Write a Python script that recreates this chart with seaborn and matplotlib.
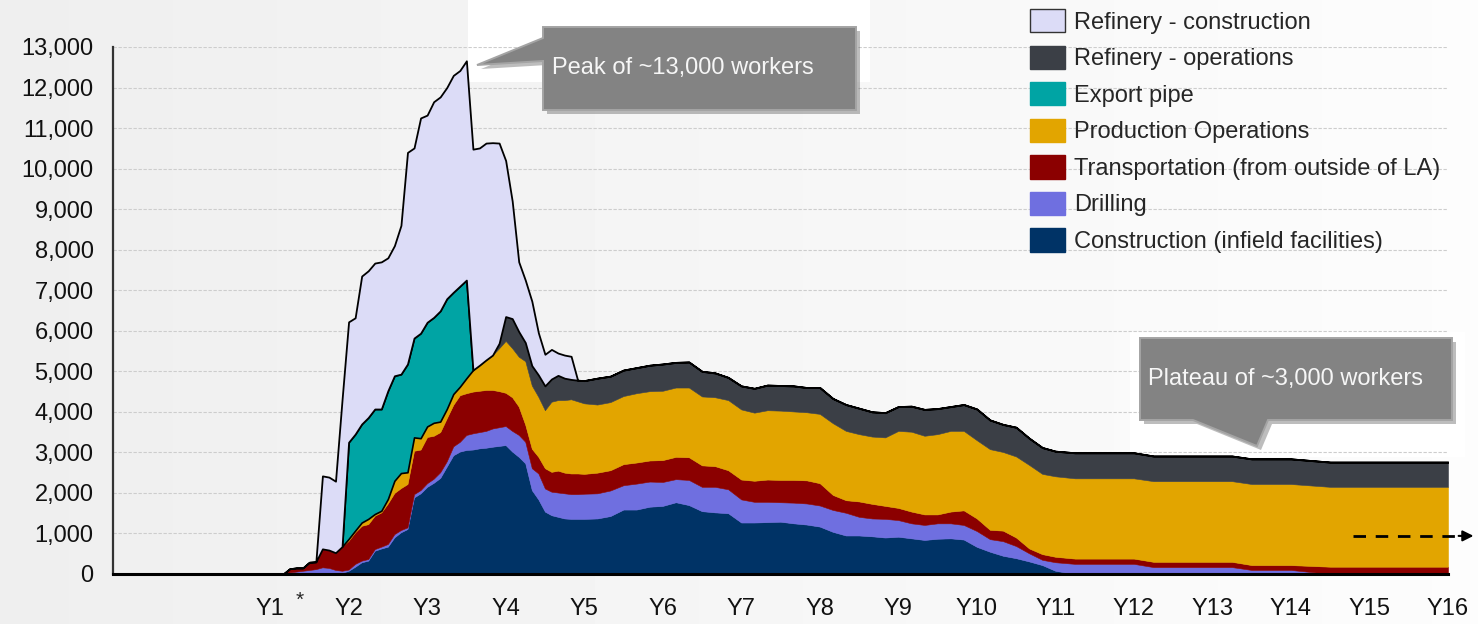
import numpy as np
import pandas as pd
import matplotlib
matplotlib.use("Agg")
import matplotlib.pyplot as plt
import matplotlib.transforms as mtransforms
from matplotlib.patches import Patch, Polygon, Rectangle
from matplotlib.ticker import FuncFormatter, MultipleLocator
import seaborn as sns

# time axis in months (Y1 = month 12)
months = [10, 14,
          15, 16, 17, 18, 19, 20, 21, 22, 23, 24, 25, 26, 27, 28, 29, 30, 31, 32, 33, 34, 35, 36, 37,
          38, 39, 40, 41, 42, 43, 44, 45, 46, 47, 48, 49, 50, 51, 52, 53, 54, 55, 56, 57, 58, 59, 60,
          62, 64, 66, 68, 70, 72, 74, 76, 78, 80, 82, 84, 86, 88, 90, 92, 94, 96, 98, 100, 102, 104,
          106, 108, 110, 112, 114, 116, 118, 120, 122, 124, 126, 128, 130, 132,
          135, 138, 141, 144, 147, 150, 153, 156, 159, 162, 165, 168, 171, 174, 177, 180, 183, 186,
          189, 192]

construction = [0, 0,
                0, 0, 0, 0, 0, 0, 0, 0, 30, 80, 180, 290, 330, 575, 630, 675, 905, 1030, 1110, 1890,
                1990, 2150, 2250, 2370, 2650, 2930, 3020, 3060, 3070, 3100, 3115, 3140, 3160, 3180,
                3020, 2890, 2730, 2070, 1840, 1540, 1450, 1410, 1370, 1360, 1360, 1360,
                1370, 1430, 1590, 1590, 1660, 1680, 1770, 1700, 1550, 1520, 1500, 1270, 1270, 1280,
                1290, 1250, 1220, 1170, 1040, 950, 950, 930, 900, 920, 880, 840, 870, 880, 850, 670,
                550, 450, 390, 310, 220, 80,
                0, 0, 0, 0, 0, 0, 0, 0, 0, 0, 0, 0, 0, 0, 0, 0, 0, 0, 0, 0]

drilling = [0, 0,
            40, 60, 80, 100, 120, 165, 150, 100, 50, 30, 70, 40, 40, 40, 45, 65, 80, 55, 40, 80, 80,
            90, 100, 140, 130, 220, 240, 370, 400, 400, 415, 450, 460, 470, 510, 540, 530, 540, 640,
            570, 580, 600, 620, 610, 610, 620,
            620, 630, 600, 640, 620, 590, 570, 620, 600, 630, 590, 570, 510, 500, 480, 510, 520, 520,
            540, 560, 460, 440, 460, 410, 370, 370, 380, 370, 360, 390, 310, 360, 300, 200, 130, 210,
            250, 250, 250, 250, 170, 170, 170, 170, 170, 100, 100, 100, 50, 0, 0, 0, 0, 0, 0, 0]

transportation = [0, 0,
                  90, 90, 70, 190, 180, 455, 440, 425, 595, 710, 780, 860, 860, 825, 845, 1000, 1015,
                  1035, 1070, 1070, 1000, 1140, 1060, 990, 1060, 1025, 1150, 1030, 1030, 1020, 1010,
                  950, 890, 820, 830, 700, 420, 480, 410, 500, 490, 540, 510, 510, 510, 490,
                  510, 500, 520, 520, 520, 540, 550, 560, 530, 510, 470, 490, 520, 550, 550, 560, 570,
                  550, 370, 310, 380, 360, 320, 300, 290, 260, 220, 290, 360, 310, 230, 260, 210, 120,
                  140, 135,
                  130, 130, 130, 130, 130, 130, 130, 130, 130, 120, 120, 120, 150, 180, 180, 180, 180,
                  180, 180, 180]

production = [0, 0,
              0, 0, 0, 0, 0, 0, 0, 0, 0, 45, 40, 80, 130, 40, 40, 110, 300, 370, 290, 330, 280, 260,
              320, 260, 230, 265, 210, 370, 530, 630, 740, 860, 1060, 1280, 1210, 1230, 1570, 1560,
              1480, 1430, 1730, 1740, 1790, 1830, 1780, 1740,
              1680, 1680, 1680, 1710, 1710, 1710, 1710, 1720, 1700, 1700, 1730, 1730, 1680, 1710,
              1710, 1690, 1680, 1710, 1770, 1710, 1660, 1660, 1690, 1900, 1970, 1940, 1980, 1990,
              1960, 1930, 1990, 1940, 2000, 2060, 1980, 1985,
              1980, 1980, 1980, 1980, 1990, 1990, 1990, 1990, 1990, 2000, 2000, 2000, 1985, 1970,
              1970, 1970, 1970, 1970, 1970, 1970]

export_pipe = [0, 0,
               0, 0, 0, 0, 0, 0, 0, 0, 0, 2385, 2380, 2430, 2500, 2590, 2510, 2670, 2590, 2440, 2670,
               2450, 2590, 2570, 2600, 2730, 2720, 2510, 2480, 2420, 0, 0, 0, 0, 0, 0, 0, 0, 0, 0, 0,
               0, 0, 0, 0, 0, 0, 0] + [0] * 56

refinery_ops = [0, 0,
                0, 0, 0, 0, 0, 0, 0, 0, 0, 0, 0, 0, 0, 0, 0, 0, 0, 0, 0, 0, 0, 0, 0, 0, 0, 0, 0, 0,
                0, 0, 0, 0, 120, 600, 730, 620, 460, 490, 540, 600, 560, 610, 540, 490, 520, 560,
                650, 640, 640, 630, 640, 660, 620, 630, 620, 600, 560, 580, 600, 620, 620, 630, 610,
                650, 610, 650, 640, 610, 610, 600, 630, 650, 630, 600, 650, 770, 720, 680, 720, 660,
                650, 620,
                630, 630, 630, 630, 620, 620, 620, 620, 620, 620, 620, 620, 615, 610, 610, 610, 610,
                610, 610, 610]

refinery_construction = [0, 0,
                         0, 0, 0, 0, 0, 1800, 1800, 1765, 3625, 2970, 2870, 3650, 3620, 3600, 3630,
                         3280, 3210, 3670, 5220, 4690, 5310, 5110, 5320, 5280, 5210, 5350, 5320,
                         5410, 5450, 5360, 5350, 5240, 4940, 3850, 2900, 1720, 1540, 1590, 1040, 780,
                         730, 550, 570, 570, 0, 0] + [0] * 56

year_labels = ["Y%d" % k for k in range(1, 17)]

# stack order bottom -> top
series = {
    "Construction (infield facilities)": (construction, "#003366"),
    "Drilling": (drilling, "#6f6fe0"),
    "Transportation (from outside of LA)": (transportation, "#8b0000"),
    "Production Operations": (production, "#e2a500"),
    "Export pipe": (export_pipe, "#00a4a4"),
    "Refinery - operations": (refinery_ops, "#3b3f46"),
    "Refinery - construction": (refinery_construction, "#dcdcf7"),
}

df = pd.DataFrame({k: v[0] for k, v in series.items()}, index=np.array(months) / 12.0)

W, H = 1478, 624


def px(x, y):
    return (x / W, 1 - y / H)


sns.set_theme(style="whitegrid")
plt.rcParams["font.family"] = ["Liberation Sans", "DejaVu Sans"]

fig = plt.figure(figsize=(W / 100, H / 100), dpi=100, facecolor="#f2f3f3")

# soft background gradient
bg = fig.add_axes([0, 0, 1, 1], zorder=-10)
grad = np.linspace(0.935, 0.99, 256).reshape(1, -1)
bg.imshow(grad, aspect="auto", cmap="gray", vmin=0, vmax=1, extent=[0, 1, 0, 1])
bg.axis("off")

# white patches behind the callouts
for (x0, y0, x1, y1) in [(468, 0, 870, 82), (1130, 332, 1465, 457)]:
    fig.patches.append(Rectangle(px(x0, y1), (x1 - x0) / W, (y1 - y0) / H,
                                 transform=fig.transFigure, facecolor="white",
                                 edgecolor="none", zorder=-5))

ax = fig.add_axes([113 / W, 1 - 574 / H, (1448 - 113) / W, (574 - 47) / H])
ax.set_facecolor("none")

x = df.index.values
lower = np.zeros(len(df))
for name, (vals, color) in series.items():
    v = df[name].values
    upper = lower + v
    if name == "Export pipe":
        mask = np.convolve(v > 0, [1, 1, 1], mode="same") > 0
        ax.fill_between(x, lower, upper, where=mask, facecolor=color,
                        edgecolor="black", linewidth=1.2, zorder=3)
    elif name == "Refinery - construction":
        ax.fill_between(x, lower, upper, facecolor=color,
                        edgecolor="black", linewidth=1.3, zorder=4)
    else:
        ax.fill_between(x, lower, upper, facecolor=color,
                        edgecolor=color, linewidth=0.4, zorder=2)
    lower = upper

ax.set_xlim(-1, 16)
ax.set_ylim(0, 13000)
ax.yaxis.set_major_locator(MultipleLocator(1000))
ax.yaxis.set_major_formatter(FuncFormatter(lambda v, p: f"{int(v):,}"))
ax.set_xticks(range(1, 17))
ax.set_xticklabels(year_labels)
ax.tick_params(axis="y", length=0, pad=14, labelsize=17, labelcolor="#111111")
ax.tick_params(axis="x", length=0, pad=17, labelsize=17, labelcolor="#111111")
ax.xaxis.grid(False)
ax.yaxis.grid(True, color="#cdcdcd", linewidth=0.8, linestyle=(0, (3, 1.5)))
for s in ["top", "right"]:
    ax.spines[s].set_visible(False)
ax.spines["left"].set_color("#333333")
ax.spines["left"].set_linewidth(1.6)
ax.spines["bottom"].set_color("black")
ax.spines["bottom"].set_linewidth(2.2)
ax.spines["bottom"].set_zorder(5)
ax.set_xlabel("")
ax.set_ylabel("")

# asterisk next to Y1
blend = mtransforms.blended_transform_factory(ax.transData, ax.transAxes)
ax.text(1.38, -0.05, "*", transform=blend, ha="center", va="center", fontsize=15)

# dashed continuation arrow
ax.plot([14.79, 16.15], [940, 940], color="black", lw=2, dashes=(4.5, 3.5), clip_on=False, zorder=6)
ax.annotate("", xy=(16.36, 940), xytext=(16.1, 940),
            arrowprops=dict(arrowstyle="-|>", color="black", lw=1.5, mutation_scale=16),
            annotation_clip=False, zorder=6)

# callouts
callouts = [
    ([(543, 27), (856, 27), (856, 110), (543, 110), (543, 61), (477, 65), (543, 38)],
     (552, 68), "Peak of ~13,000 workers"),
    ([(1140, 338), (1452, 338), (1452, 420), (1268, 420), (1257, 446), (1193, 420), (1140, 420)],
     (1148, 379), "Plateau of ~3,000 workers"),
]
for verts, (tx, ty), label in callouts:
    shadow = [px(vx + 4, vy + 4) for vx, vy in verts]
    fig.patches.append(Polygon(shadow, closed=True, transform=fig.transFigure,
                               facecolor="#444444", alpha=0.35, edgecolor="none", zorder=7))
    fig.patches.append(Polygon([px(vx, vy) for vx, vy in verts], closed=True,
                               transform=fig.transFigure, facecolor="#838383",
                               edgecolor="#a4a4a4", linewidth=1.4, zorder=8))
    fig.text(*px(tx, ty), label, color="#f6f6f6", fontsize=17, ha="left", va="center", zorder=9)

# legend (top to bottom)
handles = []
labels = []
for name in reversed(list(series.keys())):
    color = series[name][1]
    edge = "#333333" if name == "Refinery - construction" else color
    handles.append(Patch(facecolor=color, edgecolor=edge, linewidth=1))
    labels.append(name)
leg = fig.legend(handles, labels, loc="upper left", bbox_to_anchor=px(1030, 9),
                 frameon=False, fontsize=17, handlelength=1.5, handleheight=1.15,
                 labelspacing=0.5, handletextpad=0.35, borderpad=0, borderaxespad=0)
leg.set_zorder(10)

fig.savefig("out.png", dpi=100, facecolor=fig.get_facecolor())
